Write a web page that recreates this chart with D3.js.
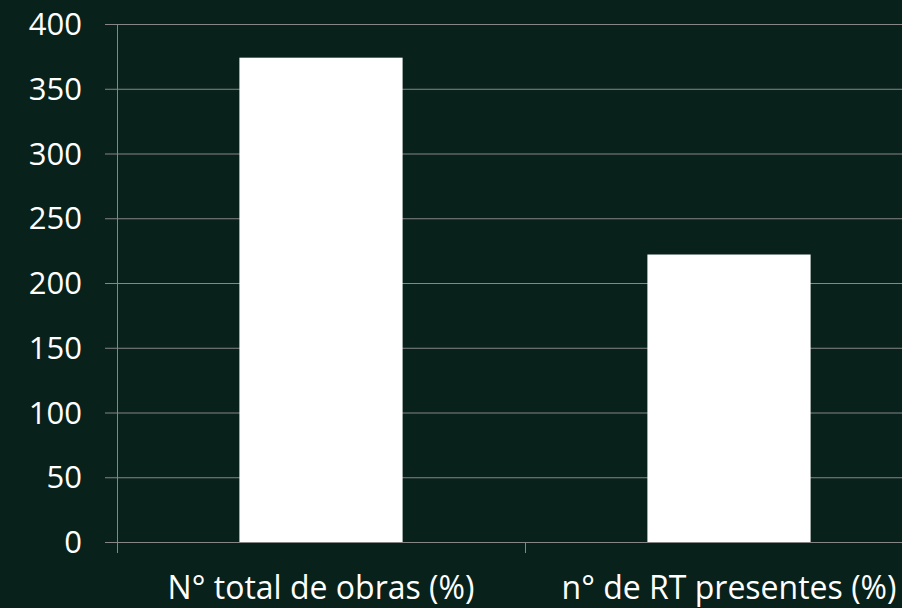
<!DOCTYPE html>
<html>
<head>
<meta charset="utf-8">
<script src="https://d3js.org/d3.v7.min.js"></script>
<style>
  body { margin: 0; background: #08211a; }
  svg { display: block; }
  text { font-family: "Open Sans", Lato, sans-serif; fill: #ffffff; }
</style>
</head>
<body>
<svg id="chart" width="902" height="608"></svg>
<script>
var categories = ["N° total de obras (%)", "n° de RT presentes (%)"];
var values = [374, 222];
var yTicks = [0, 50, 100, 150, 200, 250, 300, 350, 400];

var svg = d3.select("#chart");
var margin = {top: 24, left: 117, bottom: 542};
var plotRight = 933;

// background
svg.append("rect")
  .attr("width", 902)
  .attr("height", 608)
  .attr("fill", "#08211a");

var x = d3.scaleBand()
  .domain(categories)
  .range([margin.left, plotRight])
  .paddingInner(0.6)
  .paddingOuter(0.3);

var xCat = d3.scaleBand()
  .domain(categories)
  .range([margin.left, plotRight]);

var y = d3.scaleLinear()
  .domain([0, 400])
  .range([margin.bottom, margin.top]);

// gridlines
svg.append("g")
  .selectAll("line")
  .data(yTicks)
  .enter().append("line")
  .attr("x1", margin.left - 12)
  .attr("x2", plotRight)
  .attr("y1", function(d) { return y(d) + 0.5; })
  .attr("y2", function(d) { return y(d) + 0.5; })
  .attr("stroke", "#868686")
  .attr("stroke-width", 1);

// y tick labels
svg.append("g")
  .selectAll("text")
  .data(yTicks)
  .enter().append("text")
  .attr("x", 82)
  .attr("y", function(d) { return y(d); })
  .attr("dy", "0.36em")
  .attr("text-anchor", "end")
  .attr("font-size", "31px")
  .text(function(d) { return d; });

// bars
svg.append("g")
  .selectAll("rect")
  .data(values)
  .enter().append("rect")
  .attr("x", function(d, i) { return x(categories[i]); })
  .attr("y", function(d) { return y(d); })
  .attr("width", x.bandwidth())
  .attr("height", function(d) { return y(0) - y(d); })
  .attr("fill", "#ffffff");

// y axis line
svg.append("line")
  .attr("x1", margin.left + 0.5)
  .attr("x2", margin.left + 0.5)
  .attr("y1", margin.top)
  .attr("y2", margin.bottom + 11)
  .attr("stroke", "#868686");

// category boundary ticks
svg.append("g")
  .selectAll("line")
  .data(categories.slice(1))
  .enter().append("line")
  .attr("x1", function(d) { return xCat(d) + 0.5; })
  .attr("x2", function(d) { return xCat(d) + 0.5; })
  .attr("y1", margin.bottom)
  .attr("y2", margin.bottom + 11)
  .attr("stroke", "#868686");

// category labels
svg.append("g")
  .selectAll("text")
  .data(categories)
  .enter().append("text")
  .attr("x", function(d) { return xCat(d) + xCat.bandwidth() / 2; })
  .attr("y", 599)
  .attr("text-anchor", "middle")
  .attr("font-size", "32px")
  .text(function(d) { return d; });
</script>
</body>
</html>
